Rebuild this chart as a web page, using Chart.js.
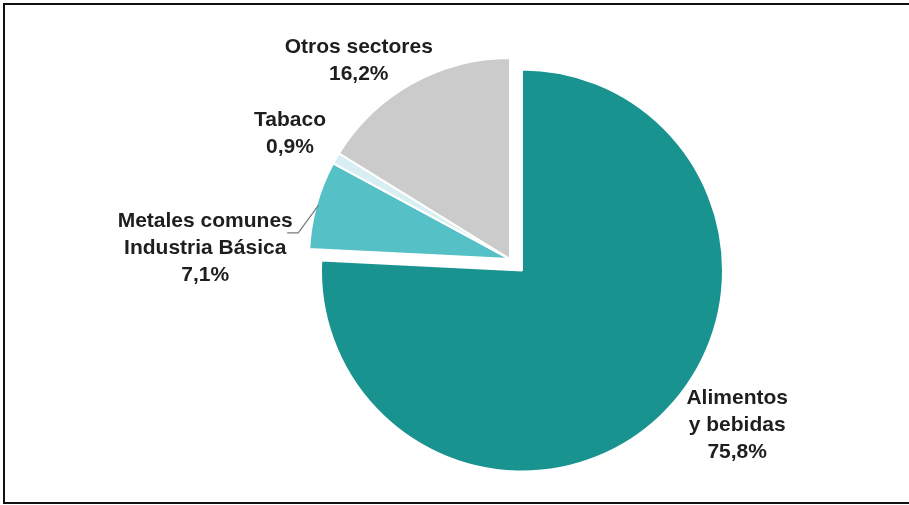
<!DOCTYPE html>
<html>
<head>
<meta charset="utf-8">
<script src="https://cdn.jsdelivr.net/npm/chart.js@4/dist/chart.umd.min.js"></script>
<style>
  html, body { margin: 0; padding: 0; background: #fff; }
  #wrap { position: relative; width: 909px; height: 505px; }
  #frame {
    position: absolute; left: 3px; top: 3px; right: 0; bottom: 1px;
    border-top: 2px solid #111; border-left: 2px solid #111; border-bottom: 2px solid #111;
    pointer-events: none;
  }
  canvas { position: absolute; left: 0; top: 0; }
</style>
</head>
<body>
<div id="wrap">
  <canvas id="pieMain" width="909" height="505"></canvas>
  <canvas id="pieRest" width="909" height="505"></canvas>
  <div id="frame"></div>
</div>
<script>
// data
const sectors = ["Alimentos\ny bebidas", "Metales comunes\nIndustria Básica", "Tabaco", "Otros sectores"];
const shares = [75.8, 7.1, 0.9, 16.2];
const shareLabels = ["75,8%", "7,1%", "0,9%", "16,2%"];

const colors = ["#19938f", "#55c0c6", "#d7eef3", "#cbcbcb"];

// label placement: angle (deg, clockwise from top) and distance past the rim
const labelAngle = [125.7, 272.1, 299.6, 322.6];
const labelGap = [64, 104, 52, 48];
const lineHeight = 27;

// the big slice is pulled out to the lower right, so it gets its own layer
const pulled = [0];

const sliceLabels = {
  id: "sliceLabels",
  afterDatasetsDraw(chart, args, opts) {
    const ctx = chart.ctx;
    const meta = chart.getDatasetMeta(0);
    ctx.save();
    ctx.font = "bold 21px 'Liberation Sans', Arial, sans-serif";
    ctx.fillStyle = "#1e1e1e";
    ctx.textAlign = "center";
    ctx.textBaseline = "middle";
    meta.data.forEach((arc, i) => {
      if (!opts.show.includes(i)) return;
      const p = arc.getProps(["x", "y", "startAngle", "endAngle", "outerRadius"], true);
      const mid = (p.startAngle + p.endAngle) / 2;
      const a = (labelAngle[i] - 90) * Math.PI / 180;
      const lx = p.x + Math.cos(a) * (p.outerRadius + labelGap[i]);
      const ly = p.y + Math.sin(a) * (p.outerRadius + labelGap[i]);
      const lines = sectors[i].split("\n").concat(shareLabels[i]);
      const top = ly - (lines.length - 1) * lineHeight / 2;
      lines.forEach((t, k) => ctx.fillText(t, lx, top + k * lineHeight));

      // leader line for the metals slice
      if (i === 1) {
        const ex = p.x + Math.cos(mid) * (p.outerRadius - 2);
        const ey = p.y + Math.sin(mid) * (p.outerRadius - 2);
        ctx.strokeStyle = "#7a7a7a";
        ctx.lineWidth = 1.2;
        ctx.beginPath();
        ctx.moveTo(lx + 82, ly - 15);
        ctx.lineTo(lx + 93, ly - 15);
        ctx.lineTo(ex, ey);
        ctx.stroke();
      }
    });
    ctx.restore();
  }
};

function makePie(id, showPulled, padding) {
  const visible = (i) => pulled.includes(i) === showPulled;
  return new Chart(document.getElementById(id), {
    type: "pie",
    data: {
      labels: sectors,
      datasets: [
        {
          data: shares,
          backgroundColor: (c) => (visible(c.dataIndex) ? colors[c.dataIndex] : "rgba(0,0,0,0)"),
          borderColor: (c) => (visible(c.dataIndex) ? "#ffffff" : "rgba(0,0,0,0)"),
          borderWidth: 2,
          hoverOffset: 0,
        },
      ],
    },
    options: {
      responsive: false,
      animation: false,
      events: [],
      layout: { padding },
      plugins: {
        legend: { display: false },
        tooltip: { enabled: false },
        sliceLabels: { show: shares.map((v, i) => i).filter(visible) },
      },
    },
    plugins: [sliceLabels],
  });
}

makePie("pieRest", false, { top: 57, bottom: 44, left: 150, right: 39 });
makePie("pieMain", true, { top: 68.5, bottom: 32.5, left: 162, right: 27 });
</script>
</body>
</html>
